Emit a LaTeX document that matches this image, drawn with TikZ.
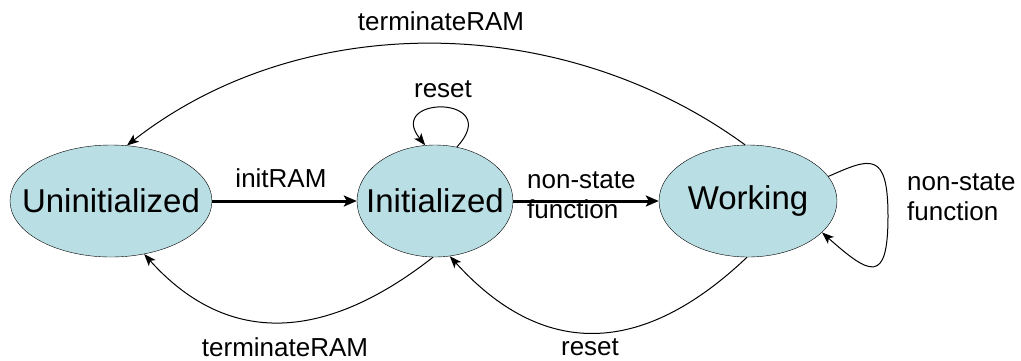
\documentclass[tikz,border=0pt]{standalone}
\usepackage{fontspec}
\setmainfont{Liberation Sans}
\usepackage{tikz}
\usetikzlibrary{shapes.geometric,arrows.meta}
\definecolor{stfill}{RGB}{185,222,227}
\begin{document}
\begin{tikzpicture}[x=1pt,y=-1pt,
    stnode/.style={ellipse,draw=black,thin,fill=stfill,inner sep=0pt,minimum height=112pt},
    sttext/.style={font=\fontsize{33}{38}\selectfont,inner sep=0pt},
    lbl/.style={font=\fontsize{26}{30}\selectfont,inner sep=0pt},
    thinarr/.style={-{Stealth[length=12pt,width=9pt,inset=3pt]},line width=1pt},
    thickarr/.style={-{Stealth[length=13pt,width=11pt,inset=3pt]},line width=3pt}]
  \useasboundingbox (0,0) rectangle (1021,360);

  \node[stnode,minimum width=202pt,label={[sttext]center:Uninitialized}] (uninit) at (111,201) {};
  \node[stnode,minimum width=156pt,label={[sttext]center:Initialized}] (init) at (435,201) {};
  \node[stnode,minimum width=178pt,label={[sttext]center:Working}] (work) at (748,201) {};

  \draw[thickarr] (uninit.east) -- (init.west);
  \draw[thickarr] (init.east) -- (work.west);

  \draw[thinarr] (work.93) .. controls (560,10) and (300,10) .. (uninit.74);
  \draw[thinarr] (init.-92) .. controls (321,345) and (225,344) .. (uninit.-58);
  \draw[thinarr] (work.-91) .. controls (641,358) and (542,358) .. (init.-75);
  \draw[thinarr] (init.68) .. controls (505,95) and (385,95) .. (init.100);
  \draw[thinarr] (work.17) .. controls (870,158) and (888,150) .. (888,216)
    .. controls (888,285) and (870,275) .. (work.-23);

  \node[lbl] (linit) at (281,178) {initRAM};
  \node[lbl,anchor=west,align=left] (lns1) at (527,195) {non-state\\function};
  \node[lbl,anchor=west,align=left] (lns2) at (907,197) {non-state\\function};
  \node[lbl] (lrs1) at (443,89) {reset};
  \node[lbl] (ltr1) at (441,21) {terminateRAM};
  \node[lbl] (ltr2) at (285,347) {terminateRAM};
  \node[lbl] (lrs2) at (590,347) {reset};
\end{tikzpicture}
\end{document}
